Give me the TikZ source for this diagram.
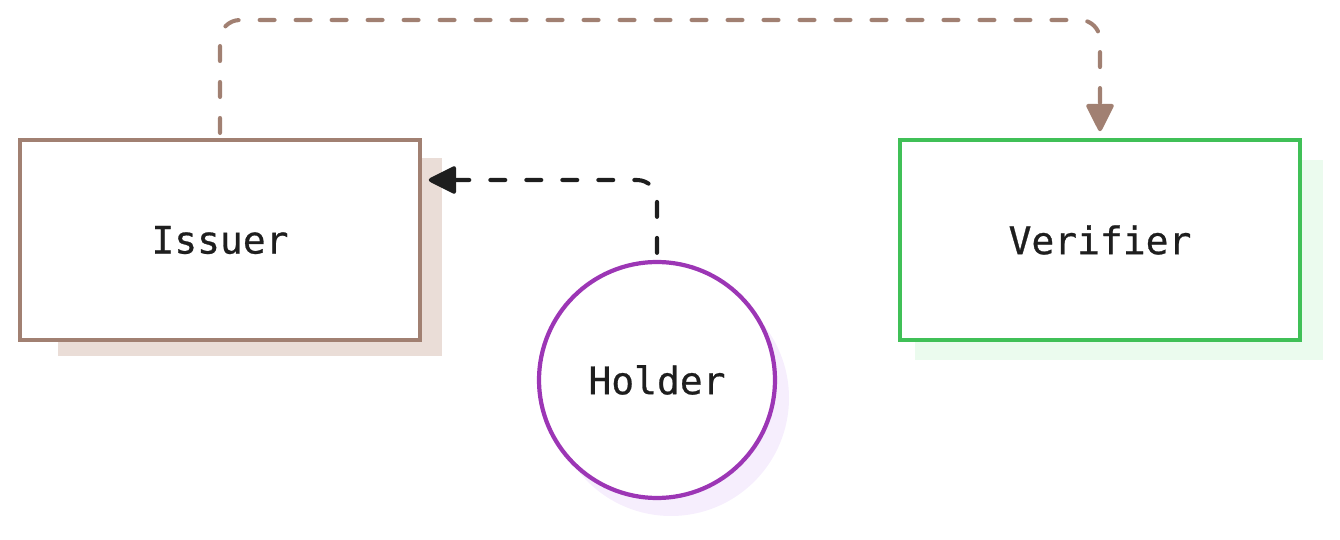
\documentclass[tikz,border=0pt]{standalone}
\usepackage{fontspec}
\newfontfamily\rolefont[FakeBold=0.7]{DejaVu Sans Mono}
\usepackage{tikz}
\usetikzlibrary{arrows.meta}
\usetikzlibrary{calc}
\definecolor{rolebrown}{HTML}{A18072}
\definecolor{brownshade}{HTML}{EADDD7}
\definecolor{rolegreen}{HTML}{40C057}
\definecolor{greenshade}{HTML}{EBFBEE}
\definecolor{rolepurple}{HTML}{9C36B5}
\definecolor{purpleshade}{HTML}{F6EEFD}
\definecolor{ink}{HTML}{1E1E1E}
\tikzset{
    role/.style={draw, fill=white, line width=2pt, inner sep=0pt,
        text=ink, font=\rolefont\fontsize{21.6}{26}\selectfont},
    rolebox/.style={role, rectangle, minimum width=8cm, minimum height=4cm},
    flow/.style={line width=2.3pt, line cap=round, rounded corners=0.4cm,
        dash pattern=on 0.3cm off 0.42cm,
        -{Triangle[length=0.6cm, width=0.58cm, round]}}}

\begin{document}
\begin{tikzpicture}[x=0.02cm, y=-0.02cm]

        \useasboundingbox (0,0) rectangle (1340,540);

        % shadows
        \fill[brownshade] (58,158) rectangle (442,356);
        \fill[greenshade] (915,160) rectangle (1323,360);
        \fill[purpleshade] (671,398) circle[radius=118];

        \node[rolebox, draw=rolebrown] (issuer) at (220,240) {Issuer};
        \node[rolebox, draw=rolegreen] (verifier) at (1100,240) {Verifier};
        \node[role, circle, draw=rolepurple, line width=2.4pt, minimum size=4.72cm] (holder) at (657,380) {Holder};

        \coordinate (top) at (660,20);

        \draw[flow, rolebrown, shorten <=3pt, shorten >=4pt] (issuer.north) |- (top) -| (verifier.north);
        \draw[flow, ink, shorten <=4pt, shorten >=4pt] (holder.north) |- ($(issuer.east)+(0,-60)$);

\end{tikzpicture}
\end{document}
